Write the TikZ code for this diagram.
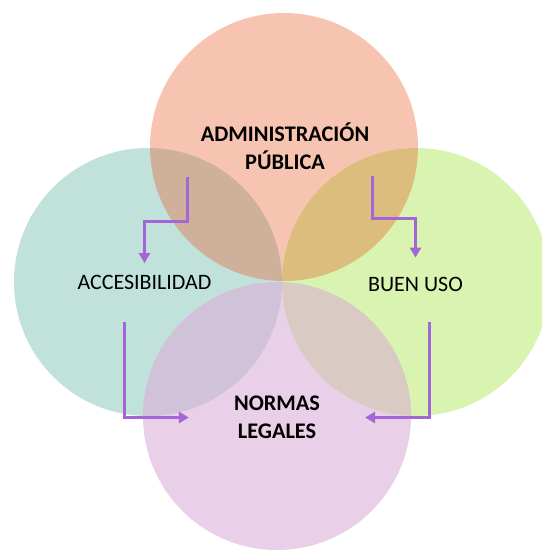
\documentclass[tikz,border=0pt]{standalone}
\usepackage{fontspec}
\setmainfont{Carlito}
\usetikzlibrary{arrows.meta}
\definecolor{ctop}{HTML}{F7C4B1}
\definecolor{cleft}{HTML}{C0E2DA}
\definecolor{cright}{HTML}{D9F4B1}
\definecolor{cbot}{HTML}{EACFE8}
\definecolor{ctl}{HTML}{CEB09B}
\definecolor{ctr}{HTML}{DDBD7D}
\definecolor{cbl}{HTML}{D0C3D9}
\definecolor{cbr}{HTML}{D9CBC4}
\definecolor{arrowc}{HTML}{A366D6}
\begin{document}
\begin{tikzpicture}[x=1pt,y=-1pt,
  blob/.style={circle, inner sep=0pt, minimum size=268pt, draw=none},
  flow/.style={draw=arrowc, line width=3pt, -{Triangle[length=10pt,width=11pt]}},
  titletext/.style={font=\fontsize{22.3}{28}\selectfont\bfseries, align=center, inner sep=0pt, text=black},
  lbltext/.style={font=\fontsize{22}{26}\selectfont, inner sep=0pt, text=black}]
\useasboundingbox (0,0) rectangle (542,550);
\clip (0,0) rectangle (542,550);
% circles
\node[blob, fill=ctop] (ctop) at (284,147) {};
\node[blob, fill=cleft] (cleft) at (148,282) {};
\node[blob, fill=cright] (cright) at (416,282) {};
\node[blob, fill=cbot] (cbot) at (277,416) {};
% overlaps
\begin{scope}
  \clip (ctop.center) circle (134pt);
  \fill[ctl] (cleft.center) circle (134pt);
  \fill[ctr] (cright.center) circle (134pt);
\end{scope}
\begin{scope}
  \clip (cbot.center) circle (134pt);
  \fill[cbl] (cleft.center) circle (134pt);
  \fill[cbr] (cright.center) circle (134pt);
\end{scope}
% labels
\node[titletext] (adm) at (285,146) {ADMINISTRACIÓN\\PÚBLICA};
\node[lbltext] (acc) at (144.5,282.5) {ACCESIBILIDAD};
\node[lbltext] (buen) at (415.5,284) {BUEN USO};
\node[titletext] (norm) at (277,417.5) {NORMAS\\LEGALES};
% connectors
\coordinate (a1s) at (187,177);
\coordinate (a1m) at (187,221);
\coordinate (a2s) at (372,176);
\coordinate (a2m) at (372,218);
\coordinate (a3s) at (124,322);
\coordinate (a4s) at (429,322);
\draw[flow] (a1s) -- (a1m) -| ([yshift=12pt]acc.north);
\draw[flow] (a2s) -- (a2m) -| ([yshift=19pt]buen.north);
\draw[flow] (a3s) |- ([xshift=-45pt]norm.west);
\draw[flow] (a4s) |- ([xshift=45pt]norm.east);
\end{tikzpicture}
\end{document}
